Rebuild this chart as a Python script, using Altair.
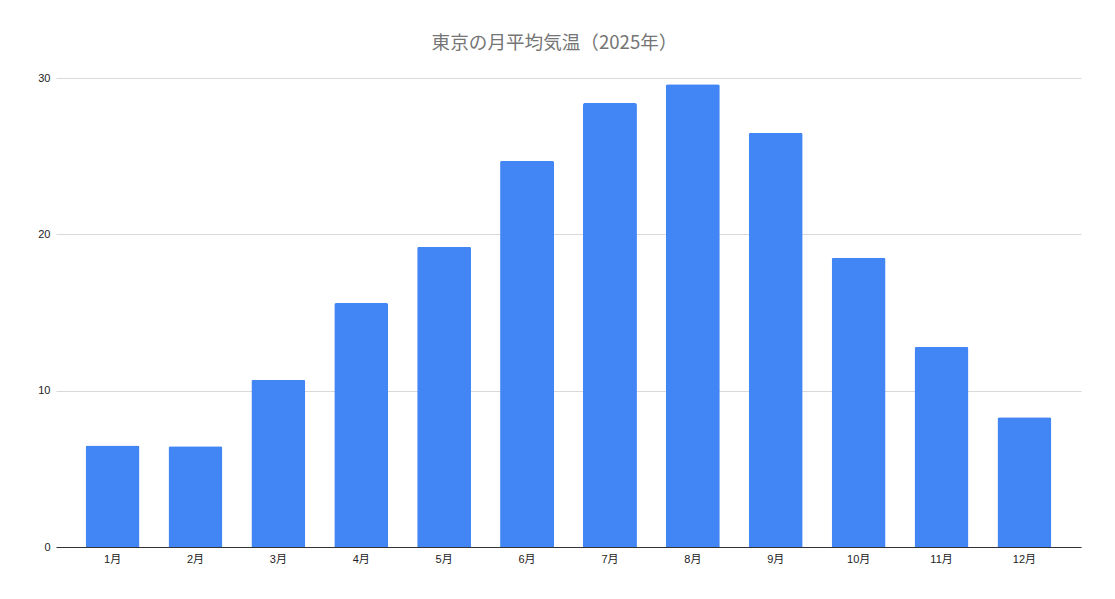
import altair as alt
import pandas as pd

months = ["1月", "2月", "3月", "4月", "5月", "6月", "7月", "8月", "9月", "10月", "11月", "12月"]
temps = [6.5, 6.45, 10.7, 15.6, 19.2, 24.7, 28.4, 29.6, 26.5, 18.5, 12.8, 8.3]
y_ticks = [0, 10, 20, 30]

df = pd.DataFrame({"month": months, "temp": temps})

FONT = "Liberation Sans, 'Noto Sans CJK JP', sans-serif"

chart = (
    alt.Chart(df)
    .mark_bar(color="#4285F4", cornerRadiusTopLeft=2, cornerRadiusTopRight=2)
    .encode(
        x=alt.X(
            "month:N",
            sort=months,
            title=None,
            scale=alt.Scale(paddingInner=0.349, paddingOuter=0.357),
            axis=alt.Axis(
                labelAngle=0,
                ticks=False,
                domain=True,
                domainColor="#333333",
                domainWidth=1,
                labelFontSize=11,
                labelColor="#222222",
                labelFont=FONT,
                labelPadding=6,
                grid=False,
            ),
        ),
        y=alt.Y(
            "temp:Q",
            title=None,
            scale=alt.Scale(domain=[0, 30], nice=False),
            axis=alt.Axis(
                values=y_ticks,
                ticks=False,
                domain=False,
                gridColor="#d9d9d9",
                gridWidth=1,
                labelFontSize=11,
                labelColor="#222222",
                labelFont=FONT,
                labelPadding=6,
            ),
        ),
    )
    .properties(
        width=1025,
        height=469,
        title=alt.TitleParams(
            "東京の月平均気温（2025年）",
            fontSize=18.6,
            font="'Noto Sans CJK JP', sans-serif",
            fontWeight="normal",
            color="#757575",
            anchor="middle",
            dx=-14,
            offset=19,
        ),
        autosize=alt.AutoSizeParams(type="none"),
        padding={"left": 48, "top": 70, "right": 26, "bottom": 43},
        background="white",
    )
    .configure_view(stroke=None)
)

chart.save("out.html", embed_options={"renderer": "svg", "actions": False})
